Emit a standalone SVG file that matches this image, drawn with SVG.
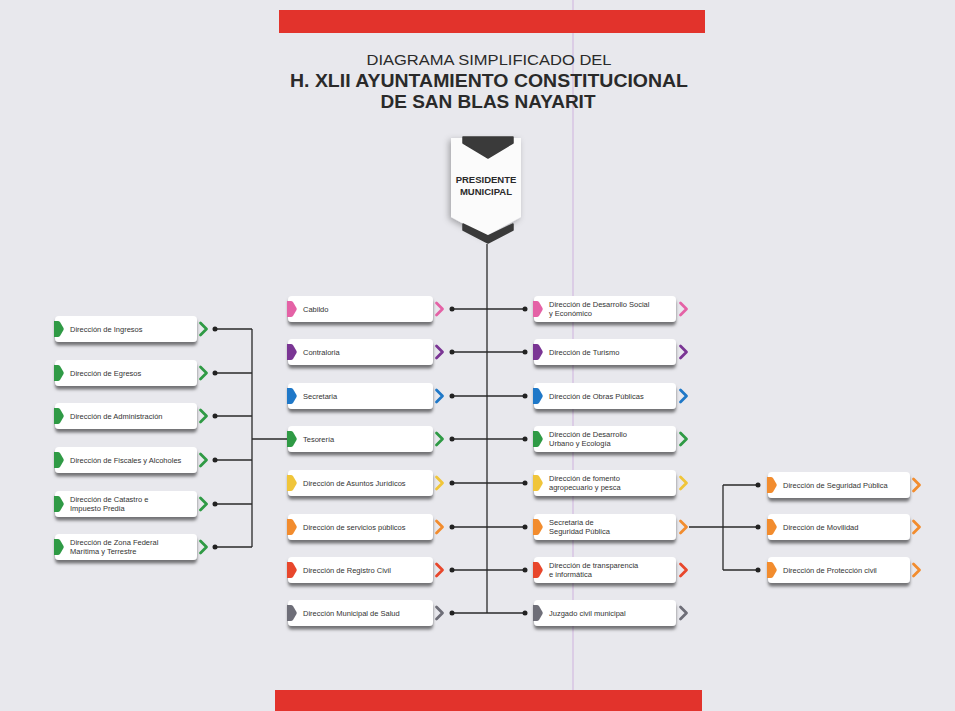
<svg xmlns="http://www.w3.org/2000/svg" xmlns:xlink="http://www.w3.org/1999/xlink" width="955" height="711" viewBox="0 0 955 711">
<style>
.t{font-family:"Liberation Sans","DejaVu Sans",sans-serif;font-size:7.5px;fill:#333}
.box{fill:#ffffff;filter:url(#sh)}
.ln{stroke:#2a2a2a;stroke-width:1.3;fill:none}
.dot{fill:#222}
.title{font-family:"Liberation Sans","DejaVu Sans",sans-serif;fill:#2a2a2a;text-anchor:middle}
</style>
<defs>
<filter id="sh" x="-10%" y="-30%" width="120%" height="190%">
<feDropShadow dx="0" dy="3.5" stdDeviation="1.8" flood-color="#000" flood-opacity="0.5"/>
</filter>
<filter id="sh2" x="-30%" y="-20%" width="160%" height="140%">
<feDropShadow dx="-2" dy="2" stdDeviation="3" flood-color="#000" flood-opacity="0.3"/>
</filter>
<path id="tab" d="M0,-8 L4,-8 Q5,-8 6,-7 L9.5,-1 Q10,0 9.5,1 L6,7 Q5,8 4,8 L0,8 Z" fill="currentColor"/>
<path id="chev" d="M-3,-6 L3,0 L-3,6" fill="none" stroke="currentColor" stroke-width="2.8" stroke-linejoin="round" stroke-linecap="round"/>
</defs>
<rect width="955" height="711" fill="#e8e8ed"/>
<line x1="573" y1="0" x2="573" y2="711" stroke="#cfb2de" stroke-width="1"/>
<rect x="279" y="10" width="426" height="23" fill="#e2332c"/>
<rect x="275" y="690" width="427" height="21" fill="#e2332c"/>
<text class="title" x="489" y="65" font-size="15" textLength="245" lengthAdjust="spacingAndGlyphs">DIAGRAMA SIMPLIFICADO DEL</text>
<text class="title" x="489" y="87" font-size="18" font-weight="bold" textLength="398" lengthAdjust="spacingAndGlyphs">H. XLII AYUNTAMIENTO CONSTITUCIONAL</text>
<text class="title" x="488" y="108" font-size="18" font-weight="bold" textLength="215" lengthAdjust="spacingAndGlyphs">DE SAN BLAS NAYARIT</text>

<g id="connectors">
<line class="ln" x1="487" y1="244" x2="487" y2="613"/>
<line class="ln" x1="452" y1="309" x2="525" y2="309"/>
<line class="ln" x1="452" y1="352" x2="525" y2="352"/>
<line class="ln" x1="452" y1="396" x2="525" y2="396"/>
<line class="ln" x1="452" y1="439" x2="525" y2="439"/>
<line class="ln" x1="452" y1="483" x2="525" y2="483"/>
<line class="ln" x1="452" y1="527" x2="525" y2="527"/>
<line class="ln" x1="452" y1="570" x2="525" y2="570"/>
<line class="ln" x1="452" y1="613" x2="525" y2="613"/>
<g class="dot">
<circle cx="452" cy="309" r="2.5"/><circle cx="525" cy="309" r="2.5"/>
<circle cx="452" cy="352" r="2.5"/><circle cx="525" cy="352" r="2.5"/>
<circle cx="452" cy="396" r="2.5"/><circle cx="525" cy="396" r="2.5"/>
<circle cx="452" cy="439" r="2.5"/><circle cx="525" cy="439" r="2.5"/>
<circle cx="452" cy="483" r="2.5"/><circle cx="525" cy="483" r="2.5"/>
<circle cx="452" cy="527" r="2.5"/><circle cx="525" cy="527" r="2.5"/>
<circle cx="452" cy="570" r="2.5"/><circle cx="525" cy="570" r="2.5"/>
<circle cx="452" cy="613" r="2.5"/><circle cx="525" cy="613" r="2.5"/>
</g>
<path class="ln" d="M215,329 H252 M215,373 H252 M215,416 H252 M215,460 H252 M215,504 H252 M215,547 H252 M252,329 V547 M252,439 H290"/>
<g class="dot">
<circle cx="215" cy="329" r="2.5"/><circle cx="215" cy="373" r="2.5"/><circle cx="215" cy="416" r="2.5"/>
<circle cx="215" cy="460" r="2.5"/><circle cx="215" cy="504" r="2.5"/><circle cx="215" cy="547" r="2.5"/>
</g>
<path class="ln" d="M689,527 H758 M723,485 V570 M723,485 H758 M723,570 H758"/>
<g class="dot">
<circle cx="758" cy="485" r="2.5"/><circle cx="758" cy="527" r="2.5"/><circle cx="758" cy="570" r="2.5"/>
</g>
</g>

<g id="presidente">
<path d="M451,138 H521 V217 L486,236 L451,217 Z" fill="#fbfbfb" filter="url(#sh2)"/>
<path d="M463,137 H513 V143 L488,158 L463,143 Z" fill="#3a3a3a" stroke="#3a3a3a" stroke-width="1.5" stroke-linejoin="round"/>
<path d="M463,224 L488,236 L513,224 V230 L488,243 L463,230 Z" fill="#3a3a3a" stroke="#3a3a3a" stroke-width="1.5" stroke-linejoin="round"/>
<text class="title" x="486" y="183" font-size="9.5" font-weight="bold">PRESIDENTE</text>
<text class="title" x="486" y="195" font-size="9.5" font-weight="bold">MUNICIPAL</text>
</g>

<!-- Left column -->
<g id="ingresos" color="#2f9a45"><rect class="box" x="55" y="316" width="142" height="26" rx="4"/><use xlink:href="#tab" x="54" y="329"/><use xlink:href="#chev" x="203.5" y="329"/><text class="t" x="70" y="331.5">Dirección de Ingresos</text></g>
<g id="egresos" color="#2f9a45"><rect class="box" x="55" y="360" width="142" height="26" rx="4"/><use xlink:href="#tab" x="54" y="373"/><use xlink:href="#chev" x="203.5" y="373"/><text class="t" x="70" y="375.5">Dirección de Egresos</text></g>
<g id="administracion" color="#2f9a45"><rect class="box" x="55" y="403" width="142" height="26" rx="4"/><use xlink:href="#tab" x="54" y="416"/><use xlink:href="#chev" x="203.5" y="416"/><text class="t" x="70" y="418.5">Dirección de Administración</text></g>
<g id="fiscales" color="#2f9a45"><rect class="box" x="55" y="447" width="142" height="26" rx="4"/><use xlink:href="#tab" x="54" y="460"/><use xlink:href="#chev" x="203.5" y="460"/><text class="t" x="70" y="462.5">Dirección de Fiscales y Alcoholes</text></g>
<g id="catastro" color="#2f9a45"><rect class="box" x="55" y="491" width="142" height="26" rx="4"/><use xlink:href="#tab" x="54" y="504"/><use xlink:href="#chev" x="203.5" y="504"/><text class="t" x="70" y="502">Dirección de Catastro e</text><text class="t" x="70" y="511">Impuesto Predia</text></g>
<g id="zona-federal" color="#2f9a45"><rect class="box" x="55" y="534" width="142" height="26" rx="4"/><use xlink:href="#tab" x="54" y="547"/><use xlink:href="#chev" x="203.5" y="547"/><text class="t" x="70" y="545">Dirección de Zona Federal</text><text class="t" x="70" y="554">Marítima y Terrestre</text></g>

<!-- Center-left column -->
<g id="cabildo" color="#e462a6"><rect class="box" x="288" y="296" width="145" height="26" rx="4"/><use xlink:href="#tab" x="287" y="309"/><use xlink:href="#chev" x="439.5" y="309"/><text class="t" x="303" y="311.5">Cabildo</text></g>
<g id="contraloria" color="#7a3594"><rect class="box" x="288" y="339" width="145" height="26" rx="4"/><use xlink:href="#tab" x="287" y="352"/><use xlink:href="#chev" x="439.5" y="352"/><text class="t" x="303" y="354.5">Contraloria</text></g>
<g id="secretaria" color="#1f78c8"><rect class="box" x="288" y="383" width="145" height="26" rx="4"/><use xlink:href="#tab" x="287" y="396"/><use xlink:href="#chev" x="439.5" y="396"/><text class="t" x="303" y="398.5">Secretaria</text></g>
<g id="tesoreria" color="#2f9a45"><rect class="box" x="288" y="426" width="145" height="26" rx="4"/><use xlink:href="#tab" x="287" y="439"/><use xlink:href="#chev" x="439.5" y="439"/><text class="t" x="303" y="441.5">Tesorería</text></g>
<g id="asuntos-juridicos" color="#f0c53a"><rect class="box" x="288" y="470" width="145" height="26" rx="4"/><use xlink:href="#tab" x="287" y="483"/><use xlink:href="#chev" x="439.5" y="483"/><text class="t" x="303" y="485.5">Dirección de Asuntos Jurídicos</text></g>
<g id="servicios-publicos" color="#f28c2e"><rect class="box" x="288" y="514" width="145" height="26" rx="4"/><use xlink:href="#tab" x="287" y="527"/><use xlink:href="#chev" x="439.5" y="527"/><text class="t" x="303" y="529.5">Dirección de servicios públicos</text></g>
<g id="registro-civil" color="#e8472c"><rect class="box" x="288" y="557" width="145" height="26" rx="4"/><use xlink:href="#tab" x="287" y="570"/><use xlink:href="#chev" x="439.5" y="570"/><text class="t" x="303" y="572.5">Dirección de Registro Civil</text></g>
<g id="salud" color="#6e6e78"><rect class="box" x="288" y="600" width="145" height="26" rx="4"/><use xlink:href="#tab" x="287" y="613"/><use xlink:href="#chev" x="439.5" y="613"/><text class="t" x="303" y="615.5">Dirección Municipal de Salud</text></g>

<!-- Center-right column -->
<g id="desarrollo-social" color="#e462a6"><rect class="box" x="534" y="296" width="142" height="26" rx="4"/><use xlink:href="#tab" x="533" y="309"/><use xlink:href="#chev" x="683.5" y="309"/><text class="t" x="549" y="307">Dirección de Desarrollo Social</text><text class="t" x="549" y="316">y Económico</text></g>
<g id="turismo" color="#7a3594"><rect class="box" x="534" y="339" width="142" height="26" rx="4"/><use xlink:href="#tab" x="533" y="352"/><use xlink:href="#chev" x="683.5" y="352"/><text class="t" x="549" y="354.5">Dirección de Turismo</text></g>
<g id="obras-publicas" color="#1f78c8"><rect class="box" x="534" y="383" width="142" height="26" rx="4"/><use xlink:href="#tab" x="533" y="396"/><use xlink:href="#chev" x="683.5" y="396"/><text class="t" x="549" y="398.5">Dirección de Obras Públicas</text></g>
<g id="desarrollo-urbano" color="#2f9a45"><rect class="box" x="534" y="426" width="142" height="26" rx="4"/><use xlink:href="#tab" x="533" y="439"/><use xlink:href="#chev" x="683.5" y="439"/><text class="t" x="549" y="437">Dirección de Desarrollo</text><text class="t" x="549" y="446">Urbano y Ecología</text></g>
<g id="fomento" color="#f0c53a"><rect class="box" x="534" y="470" width="142" height="26" rx="4"/><use xlink:href="#tab" x="533" y="483"/><use xlink:href="#chev" x="683.5" y="483"/><text class="t" x="549" y="481">Dirección de fomento</text><text class="t" x="549" y="490">agropecuario y pesca</text></g>
<g id="secretaria-seguridad" color="#f28c2e"><rect class="box" x="534" y="514" width="142" height="26" rx="4"/><use xlink:href="#tab" x="533" y="527"/><use xlink:href="#chev" x="683.5" y="527"/><text class="t" x="549" y="525">Secretaria de</text><text class="t" x="549" y="534">Seguridad Pública</text></g>
<g id="transparencia" color="#e8472c"><rect class="box" x="534" y="557" width="142" height="26" rx="4"/><use xlink:href="#tab" x="533" y="570"/><use xlink:href="#chev" x="683.5" y="570"/><text class="t" x="549" y="568">Dirección de transparencia</text><text class="t" x="549" y="577">e informática</text></g>
<g id="juzgado" color="#6e6e78"><rect class="box" x="534" y="600" width="142" height="26" rx="4"/><use xlink:href="#tab" x="533" y="613"/><use xlink:href="#chev" x="683.5" y="613"/><text class="t" x="549" y="615.5">Juzgado civil municipal</text></g>

<!-- Far right column -->
<g id="seguridad-publica" color="#f28c2e"><rect class="box" x="768" y="472" width="142" height="26" rx="4"/><use xlink:href="#tab" x="767" y="485"/><use xlink:href="#chev" x="916.5" y="485"/><text class="t" x="783" y="487.5">Dirección de Seguridad Pública</text></g>
<g id="movilidad" color="#f28c2e"><rect class="box" x="768" y="514" width="142" height="26" rx="4"/><use xlink:href="#tab" x="767" y="527"/><use xlink:href="#chev" x="916.5" y="527"/><text class="t" x="783" y="529.5">Dirección de Movilidad</text></g>
<g id="proteccion-civil" color="#f28c2e"><rect class="box" x="768" y="557" width="142" height="26" rx="4"/><use xlink:href="#tab" x="767" y="570"/><use xlink:href="#chev" x="916.5" y="570"/><text class="t" x="783" y="572.5">Dirección de Protección civil</text></g>
</svg>
